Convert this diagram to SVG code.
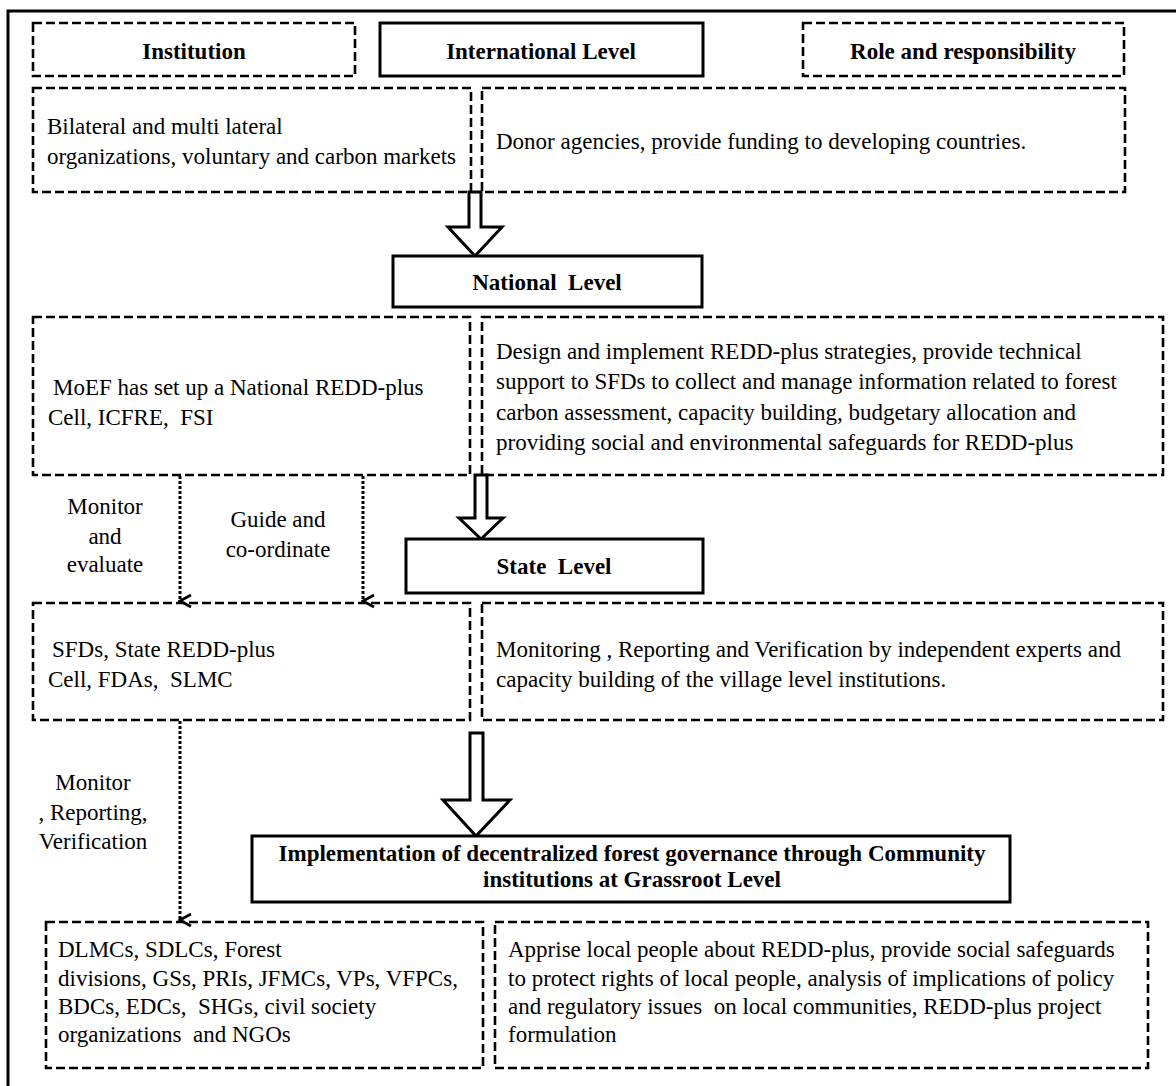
<svg xmlns="http://www.w3.org/2000/svg" width="1176" height="1086" viewBox="0 0 1176 1086">
<defs>
<style>
.dash{fill:none;stroke:#000;stroke-width:2.6;stroke-dasharray:9 4}
.solid{fill:#fff;stroke:#000;stroke-width:3}
.t{font-family:"Liberation Serif","Times New Roman",serif;font-size:23px;fill:#000}
.h{font-family:"Liberation Serif","Times New Roman",serif;font-size:23px;font-weight:bold;fill:#000}
.c{text-anchor:middle}
.dot{fill:none;stroke:#000;stroke-width:3;stroke-dasharray:3 2}
.blk{fill:#fff;stroke:#000;stroke-width:3;stroke-linejoin:miter}
</style>
<marker id="v" viewBox="0 0 16 16" refX="8" refY="14" markerWidth="16" markerHeight="16" markerUnits="userSpaceOnUse" orient="auto-start-reverse">
<path d="M2,3 L8,14 L14,3" fill="none" stroke="#000" stroke-width="2.6"/>
</marker>
</defs>
<rect x="0" y="0" width="1176" height="1086" fill="#fff"/>
<rect x="8" y="11" width="1200" height="1100" fill="none" stroke="#000" stroke-width="3"/>

<g id="connectors">
<path class="blk" d="M469,192 L481,192 L481,227 L502,227 L475,256 L448,227 L469,227 Z"/>
<path class="blk" d="M475,475 L487,475 L487,518 L503,518 L481,539 L459,518 L475,518 Z"/>
<path class="blk" d="M470,733 L483,733 L483,800 L510,800 L476,836 L443,800 L470,800 Z"/>
<line class="dot" x1="180" y1="476" x2="180" y2="601" marker-end="url(#v)"/>
<line class="dot" x1="363" y1="476" x2="363" y2="601" marker-end="url(#v)"/>
<line class="dot" x1="180" y1="721" x2="180" y2="920" marker-end="url(#v)"/>
</g>

<g id="institution-header">
<rect class="dash" x="33" y="23" width="322" height="53"/>
<text class="h c" x="194" y="59">Institution</text>
</g>
<g id="international-level">
<rect class="solid" x="380" y="23" width="323" height="53"/>
<text class="h c" x="541" y="59">International Level</text>
</g>
<g id="role-header">
<rect class="dash" x="803" y="23" width="321" height="53"/>
<text class="h c" x="963" y="59">Role and responsibility</text>
</g>

<g id="intl-institution">
<rect class="dash" x="33" y="88" width="438" height="104"/>
<text class="t" x="47" y="134">Bilateral and multi lateral</text>
<text class="t" x="47" y="164">organizations, voluntary and carbon markets</text>
</g>
<g id="intl-role">
<rect class="dash" x="482" y="88" width="643" height="104"/>
<text class="t" x="496" y="149">Donor agencies, provide funding to developing countries.</text>
</g>

<g id="national-level">
<rect class="solid" x="393" y="256" width="309" height="51"/>
<text class="h c" x="547" y="290" xml:space="preserve">National  Level</text>
</g>

<g id="national-institution">
<rect class="dash" x="33" y="317" width="437" height="158"/>
<text class="t" x="53" y="395">MoEF has set up a National REDD-plus</text>
<text class="t" x="48" y="425" xml:space="preserve">Cell, ICFRE,  FSI</text>
</g>
<g id="national-role">
<rect class="dash" x="482" y="317" width="681" height="158"/>
<text class="t" x="496" y="359">Design and implement REDD-plus strategies, provide technical</text>
<text class="t" x="496" y="389">support to SFDs to collect and manage information related to forest</text>
<text class="t" x="496" y="420">carbon assessment, capacity building, budgetary allocation and</text>
<text class="t" x="496" y="450">providing social and environmental safeguards for REDD-plus</text>
</g>

<g id="label-monitor-evaluate">
<text class="t c" x="105" y="514">Monitor</text>
<text class="t c" x="105" y="544">and</text>
<text class="t c" x="105" y="572">evaluate</text>
</g>
<g id="label-guide">
<text class="t c" x="278" y="527">Guide and</text>
<text class="t c" x="278" y="557">co-ordinate</text>
</g>

<g id="state-level">
<rect class="solid" x="406" y="539" width="297" height="54"/>
<text class="h c" x="554" y="574" xml:space="preserve">State  Level</text>
</g>

<g id="state-institution">
<rect class="dash" x="33" y="603" width="437" height="117"/>
<text class="t" x="52" y="657">SFDs, State REDD-plus</text>
<text class="t" x="48" y="687" xml:space="preserve">Cell, FDAs,  SLMC</text>
</g>
<g id="state-role">
<rect class="dash" x="482" y="603" width="681" height="117"/>
<text class="t" x="496" y="657">Monitoring , Reporting and Verification by independent experts and</text>
<text class="t" x="496" y="687">capacity building of the village level institutions.</text>
</g>

<g id="label-mrv">
<text class="t c" x="93" y="790">Monitor</text>
<text class="t c" x="93" y="820">, Reporting,</text>
<text class="t c" x="93" y="849">Verification</text>
</g>

<g id="grassroot-level">
<rect class="solid" x="252" y="836" width="758" height="66"/>
<text class="h c" x="632" y="861">Implementation of decentralized forest governance through Community</text>
<text class="h c" x="632" y="887">institutions at Grassroot Level</text>
</g>

<g id="grassroot-institution">
<rect class="dash" x="46" y="922" width="437" height="146"/>
<text class="t" x="58" y="957">DLMCs, SDLCs, Forest</text>
<text class="t" x="58" y="986">divisions, GSs, PRIs, JFMCs, VPs, VFPCs,</text>
<text class="t" x="58" y="1014" xml:space="preserve">BDCs, EDCs,  SHGs, civil society</text>
<text class="t" x="58" y="1042" xml:space="preserve">organizations  and NGOs</text>
</g>
<g id="grassroot-role">
<rect class="dash" x="495" y="922" width="653" height="146"/>
<text class="t" x="508" y="957">Apprise local people about REDD-plus, provide social safeguards</text>
<text class="t" x="508" y="986">to protect rights of local people, analysis of implications of policy</text>
<text class="t" x="508" y="1014" xml:space="preserve">and regulatory issues  on local communities, REDD-plus project</text>
<text class="t" x="508" y="1042">formulation</text>
</g>
</svg>
